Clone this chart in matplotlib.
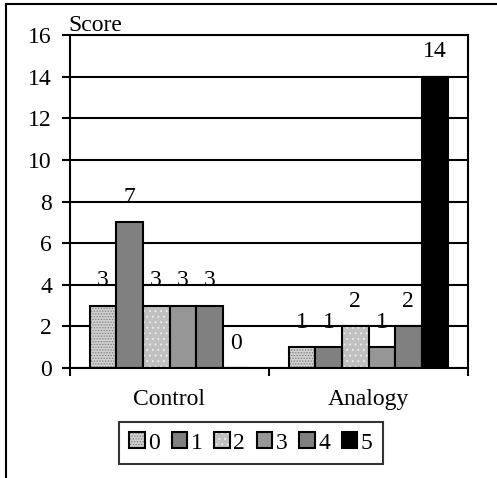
import matplotlib
matplotlib.use("Agg")
import matplotlib.pyplot as plt
from matplotlib.patches import Patch
from matplotlib.lines import Line2D
from matplotlib.legend_handler import HandlerTuple
import numpy as np

categories = ["Control", "Analogy"]
series_labels = ["0", "1", "2", "3", "4", "5"]
control_vals = [3, 7, 3, 3, 3, 0]
analogy_vals = [1, 1, 2, 1, 2, 14]
y_ticks = [0, 2, 4, 6, 8, 10, 12, 14, 16]

values = np.array([control_vals, analogy_vals])  # shape (cat, series)

faces = ["#d0d0d0", "#808080", "#c0c0c0", "#969696", "#808080", "#000000"]
hatches = ["......", None, "...", None, None, None]
hatch_cols = ["#7a7a7a", None, "#f0f0f0", None, None, None]

plt.rcParams["font.family"] = ["Liberation Serif", "DejaVu Serif"]
plt.rcParams["hatch.linewidth"] = 0.6
FS = 17

fig = plt.figure(figsize=(4.97, 4.78), dpi=100)
ax = fig.add_axes([70/497, 1-368/478, (468-70)/497, (368-35)/478])

n = len(series_labels)
width = 0.8 / n
x = np.arange(len(categories))
handles = []
for i in range(n):
    pos = x - 0.4 + width * (i + 0.5)
    vals = values[:, i]
    if hatches[i]:
        ax.bar(pos, vals, width, color=faces[i], hatch=hatches[i],
               edgecolor=hatch_cols[i], linewidth=0, zorder=2)
        ax.bar(pos, vals, width, fill=False, edgecolor="black", linewidth=1.5, zorder=3)
        h = (Patch(facecolor=faces[i], hatch=hatches[i], edgecolor=hatch_cols[i], linewidth=0),
             Patch(fill=False, edgecolor="black", linewidth=1.5))
    else:
        ax.bar(pos, vals, width, color=faces[i], edgecolor="black", linewidth=1.5, zorder=3)
        h = Patch(facecolor=faces[i], edgecolor="black", linewidth=1.5)
    handles.append(h)
    for p, v in zip(pos, vals):
        ax.annotate(str(v), (p, v), xytext=(0, 14), textcoords="offset points",
                    ha="center", va="baseline", fontsize=FS)

ax.set_ylim(0, 16)
ax.set_xlim(-0.5, 1.5)
ax.set_yticks(y_ticks)
ax.set_yticklabels([str(t) for t in y_ticks], fontsize=FS)
ax.yaxis.grid(True, color="black", linewidth=1.5, zorder=1)
ax.set_axisbelow(True)
ax.set_xticks(x)
ax.set_xticklabels(categories, fontsize=FS)
ax.set_xticks([-0.5, 0.5, 1.5], minor=True)
ax.tick_params(axis="x", which="major", length=0, pad=15)
ax.tick_params(axis="x", which="minor", length=6, width=1.5, direction="out")
ax.tick_params(axis="y", length=6, width=1.5, direction="out", pad=7)
for s in ax.spines.values():
    s.set_linewidth(1.5)
    s.set_color("black")

ax.annotate("Score", (-0.5, 16), xytext=(-1, 3), textcoords="offset points",
            ha="left", va="baseline", fontsize=FS)

leg = fig.legend(handles, series_labels, loc="center", bbox_to_anchor=(251/497, 1-443/478),
                 ncol=6, fontsize=FS, frameon=True, fancybox=False,
                 handlelength=0.65, handleheight=0.65, handletextpad=0.15,
                 columnspacing=0.5, borderpad=0.45,
                 handler_map={tuple: HandlerTuple(ndivide=1)})
leg.get_frame().set_edgecolor("black")
leg.get_frame().set_linewidth(1.5)

# outer chart frame
fig.add_artist(Line2D([6/497, 1], [1-4/478, 1-4/478], color="black", linewidth=1.5,
                      transform=fig.transFigure))
fig.add_artist(Line2D([6/497, 6/497], [0, 1-4/478], color="black", linewidth=1.5,
                      transform=fig.transFigure))

fig.savefig("out.png", dpi=100)
